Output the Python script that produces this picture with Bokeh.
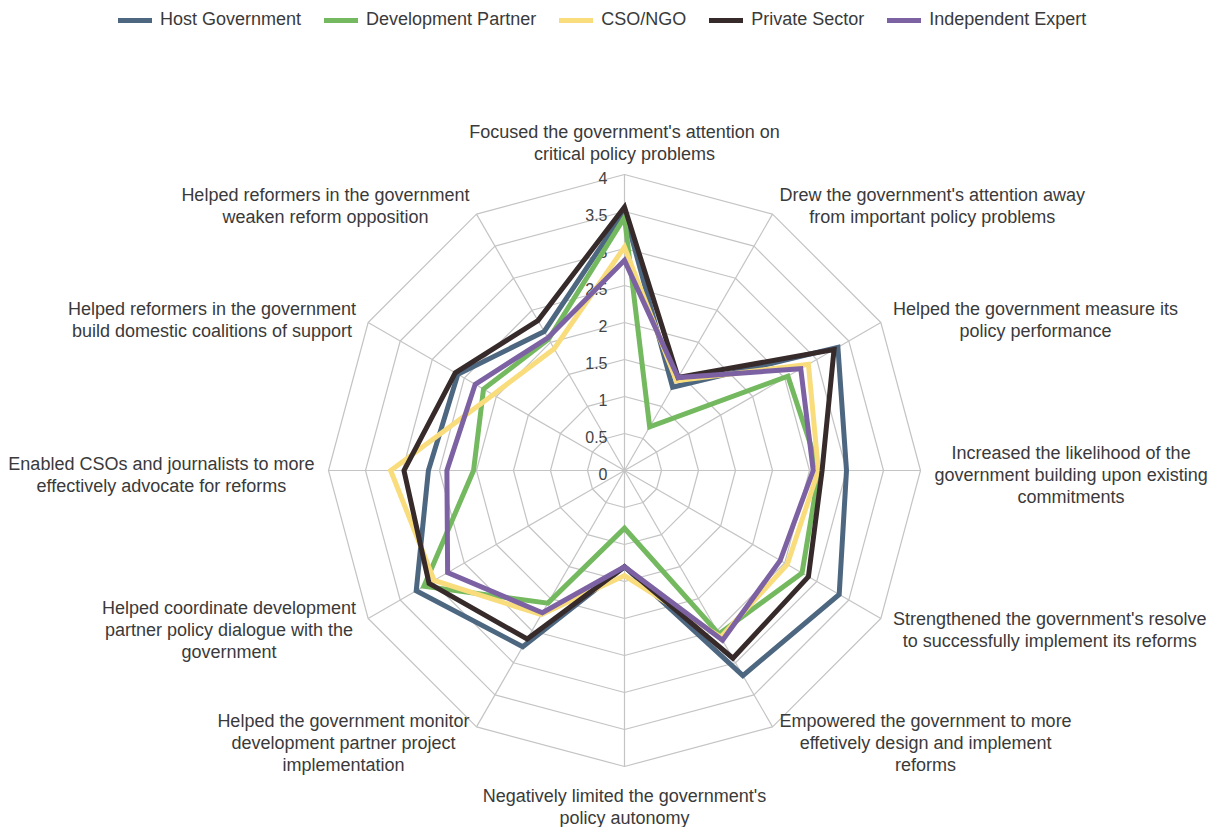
import math
from bokeh.plotting import figure
from bokeh.models import Range1d, ColumnDataSource, Legend, LegendItem
from bokeh.embed import file_html
from bokeh.resources import INLINE
from bokeh.core.properties import value

# ---------------- data ----------------
categories = [
    "Focused the government's attention on\ncritical policy problems",
    "Drew the government's attention away\nfrom important policy problems",
    "Helped the government measure its\npolicy performance",
    "Increased the likelihood of the\ngovernment building upon existing\ncommitments",
    "Strengthened the government's resolve\nto successfully implement its reforms",
    "Empowered the government to more\neffetively design and implement\nreforms",
    "Negatively limited the government's\npolicy autonomy",
    "Helped the government monitor\ndevelopment partner project\nimplementation",
    "Helped coordinate development\npartner policy dialogue with the\ngovernment",
    "Enabled CSOs and journalists to more\neffectively advocate for reforms",
    "Helped reformers in the government\nbuild domestic coalitions of support",
    "Helped reformers in the government\nweaken reform opposition",
]
series_names = ["Host Government", "Development Partner", "CSO/NGO", "Private Sector", "Independent Expert"]
host_government = [3.50, 1.30, 3.33, 3.00, 3.35, 3.20, 1.30, 2.75, 3.25, 2.65, 2.60, 2.17]
development_partner = [3.42, 0.68, 2.55, 2.63, 2.77, 2.55, 0.78, 2.07, 3.13, 2.04, 2.20, 2.05]
cso_ngo = [3.02, 1.40, 2.87, 2.62, 2.54, 2.60, 1.42, 2.25, 2.97, 3.16, 2.05, 1.90]
private_sector = [3.56, 1.45, 3.27, 2.67, 2.87, 2.93, 1.30, 2.63, 3.05, 2.98, 2.64, 2.34]
independent_expert = [2.84, 1.45, 2.75, 2.55, 2.43, 2.65, 1.30, 2.22, 2.76, 2.40, 2.33, 2.07]
series_values = [host_government, development_partner, cso_ngo, private_sector, independent_expert]
tick_values = [0, 0.5, 1, 1.5, 2, 2.5, 3, 3.5, 4]
tick_labels = ["0", "0.5", "1", "1.5", "2", "2.5", "3", "3.5", "4"]

# ---------------- style ----------------
colors = ["#4d6780", "#74b95f", "#f9dc7b", "#372a2a", "#7c62a3"]
W, H = 1208, 827
CX, CY = 624, 470          # canvas position of the radar centre
PX = 74.0                  # pixels per value unit
RMAX = 4.0
FONT = "Liberation Sans"
LABEL_SIZE = 18
LINE_H = 22
TEXT_COLOR = "#3a3a3a"
GRID_COLOR = "#c4c4c4"

N = len(categories)
angles = [2 * math.pi * i / N for i in range(N)]


def polar(r, a):
    return r * math.sin(a), r * math.cos(a)


p = figure(width=W, height=H, output_backend="svg", toolbar_location=None,
           x_axis_type=None, y_axis_type=None, min_border=0,
           x_range=Range1d(-CX / PX, (W - CX) / PX),
           y_range=Range1d(-(H - CY) / PX, CY / PX))
p.outline_line_color = None
p.grid.visible = False
p.background_fill_color = "white"

# grid rings
ring_xs, ring_ys = [], []
for t in tick_values[1:]:
    pts = [polar(t, a) for a in angles] + [polar(t, angles[0])]
    ring_xs.append([q[0] for q in pts])
    ring_ys.append([q[1] for q in pts])
p.multi_line(ring_xs, ring_ys, line_color=GRID_COLOR, line_width=1.2)
# spokes
sp_xs, sp_ys = [], []
for a in angles:
    ex, ey = polar(RMAX, a)
    sp_xs.append([0, ex])
    sp_ys.append([0, ey])
p.multi_line(sp_xs, sp_ys, line_color=GRID_COLOR, line_width=1.2)

# tick labels along the top spoke
p.text(x=[0] * len(tick_values), y=tick_values, text=tick_labels,
       text_font=value(FONT), text_font_size="16px", text_color="#444444",
       text_align="right", text_baseline="middle", x_offset=-17, y_offset=3)

# category labels
CW = {' ': 278, "'": 191, '/': 278, '.': 278, 'a': 556, 'b': 556, 'c': 500, 'd': 556, 'e': 556,
      'f': 278, 'g': 556, 'h': 556, 'i': 222, 'j': 222, 'k': 500, 'l': 222, 'm': 833, 'n': 556,
      'o': 556, 'p': 556, 'q': 556, 'r': 333, 's': 500, 't': 278, 'u': 556, 'v': 500, 'w': 722,
      'x': 500, 'y': 500, 'z': 500, 'C': 722, 'D': 722, 'E': 667, 'F': 611, 'G': 778, 'H': 722,
      'I': 278, 'N': 722, 'O': 778, 'S': 667, 'P': 667}


def text_w(s):
    return sum(CW.get(ch, 556) for ch in s) * LABEL_SIZE / 1000.0


lx, ly, lt, lxo, lyo = [], [], [], [], []
r_anchor = RMAX + 14 / PX
for cat, a in zip(categories, angles):
    ax, ay = polar(r_anchor, a)
    lines = cat.split("\n")
    n = len(lines)
    bw = max(text_w(s) for s in lines)
    s_, c_ = math.sin(a), math.cos(a)
    if s_ > 0.01:
        xo = bw / 2
    elif s_ < -0.01:
        xo = -bw / 2
    else:
        xo = 0
    if c_ > 0.99:
        yc = -n * LINE_H / 2
    elif c_ < -0.99:
        yc = n * LINE_H / 2
    else:
        yc = 0
    for i, s in enumerate(lines):
        lx.append(ax)
        ly.append(ay)
        lt.append(s)
        lxo.append(xo)
        lyo.append(yc + (i - (n - 1) / 2) * LINE_H + 4)
src = ColumnDataSource(dict(x=lx, y=ly, text=lt, xo=lxo, yo=lyo))
p.text(x="x", y="y", text="text", x_offset="xo", y_offset="yo", source=src,
       text_font=value(FONT), text_font_size=f"{LABEL_SIZE}px", text_color=TEXT_COLOR,
       text_align="center", text_baseline="middle")

# series
items = []
for name, vals, col in zip(series_names, series_values, colors):
    pts = [polar(v, a) for v, a in zip(vals, angles)]
    pts = pts + pts[:2]
    r = p.line([q[0] for q in pts], [q[1] for q in pts], line_color=col, line_width=5,
               line_join="miter", line_cap="round")
    items.append(LegendItem(label=name, renderers=[r]))

legend = Legend(items=items, orientation="horizontal", location=(118, H - 10 - 20),
                glyph_width=34, glyph_height=20, label_height=20, padding=0, margin=0,
                spacing=23, label_standoff=8, border_line_color=None,
                background_fill_alpha=0, label_text_font=FONT,
                label_text_font_size=f"{LABEL_SIZE}px", label_text_color=TEXT_COLOR)
p.add_layout(legend, "center")

open("out.html", "w").write(file_html(p, INLINE))
